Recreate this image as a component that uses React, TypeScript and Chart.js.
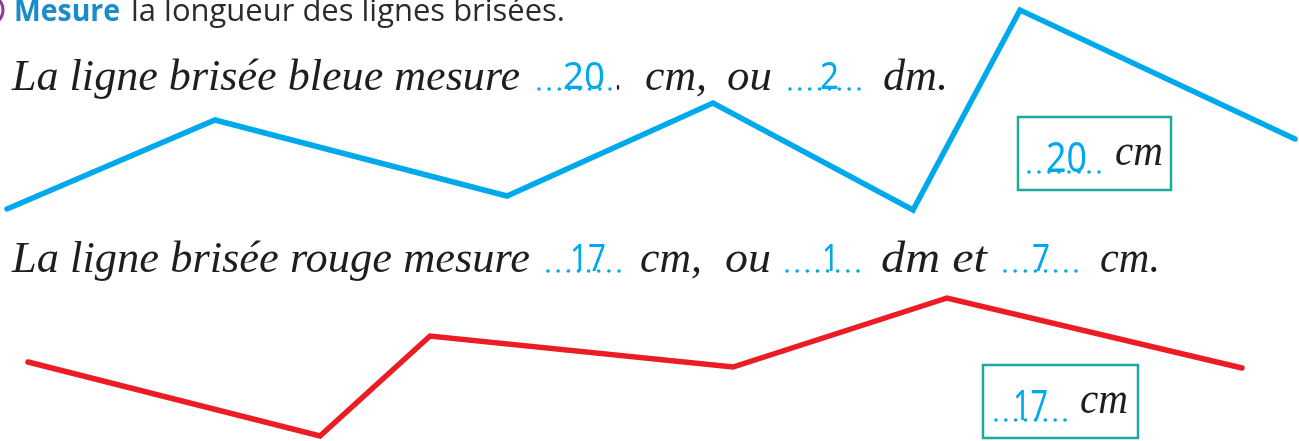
import React, { useEffect, useRef } from "react";
import { Chart, registerables } from "chart.js";

Chart.register(...registerables);

// Polyline vertices (page units: x to the right, y downwards)
const blueX = [7, 215, 507, 713, 913, 1020, 1295];
const blueY = [209, 120, 196, 103, 210, 10, 139];
const redX = [28, 320, 430, 733, 947, 1242];
const redY = [362, 436, 336, 367, 298, 368];

// Texts
const headerBold = "Mesure";
const headerRest = "la longueur des lignes brisées.";
const line1Words = ["La ligne brisée bleue mesure", ".", "cm,", "ou", "dm."];
const line1Answers = ["20", "2"];
const line2Words = ["La ligne brisée rouge mesure", "cm,", "ou", "dm et", "cm."];
const line2Answers = ["17", "1", "7"];
const boxAnswers = ["20", "17"];
const boxUnit = "cm";

const BLUE = "#00A9EC";
const RED = "#EC1C24";
const TEAL = "#1BA89F";
const INK = "#1e1e1e";
const CURSIVE = "italic 44px 'Liberation Serif'";
const SANS = "38px 'Noto Sans'";

function fit(ctx: CanvasRenderingContext2D, text: string, x: number, base: number, w: number, font: string, color: string) {
  ctx.save();
  ctx.font = font;
  ctx.fillStyle = color;
  ctx.textBaseline = "alphabetic";
  ctx.textAlign = "left";
  const m = ctx.measureText(text).width || 1;
  ctx.translate(x, base);
  ctx.scale(w / m, 1);
  ctx.fillText(text, 0, 0);
  ctx.restore();
}

function dots(ctx: CanvasRenderingContext2D, x0: number, x1: number, y: number, n: number) {
  ctx.save();
  ctx.fillStyle = BLUE;
  for (let i = 0; i < n; i++) {
    const x = x0 + ((x1 - x0) * i) / (n - 1);
    ctx.beginPath();
    ctx.arc(x, y, 1.8, 0, Math.PI * 2);
    ctx.fill();
  }
  ctx.restore();
}

const textPlugin = {
  id: "worksheetText",
  afterDraw(chart: any) {
    const ctx: CanvasRenderingContext2D = chart.ctx;
    // purple number circle edge
    ctx.save();
    ctx.strokeStyle = "#8B3A95";
    ctx.lineWidth = 3;
    ctx.beginPath();
    ctx.arc(-12, 10, 15, 0, Math.PI * 2);
    ctx.stroke();
    ctx.restore();

    // header
    fit(ctx, headerBold, 14, 21, 106, "bold 31px 'Open Sans'", "#1A8CC8");
    fit(ctx, headerRest, 131, 21, 434, "31px 'Open Sans'", "#2b2b2b");

    // line 1
    fit(ctx, line1Words[0], 12, 90, 508, CURSIVE, INK);
    dots(ctx, 539, 610, 89, 8);
    fit(ctx, line1Answers[0], 563, 89, 42, SANS, BLUE);
    fit(ctx, line1Words[1], 616, 90, 5, CURSIVE, INK);
    fit(ctx, line1Words[2], 645, 90, 62, CURSIVE, INK);
    fit(ctx, line1Words[3], 727, 90, 45, CURSIVE, INK);
    dots(ctx, 790, 859, 89, 8);
    fit(ctx, line1Answers[1], 820, 89, 19, SANS, BLUE);
    fit(ctx, line1Words[4], 883, 90, 65, CURSIVE, INK);

    // line 2
    fit(ctx, line2Words[0], 12, 272, 518, CURSIVE, INK);
    dots(ctx, 548, 619, 271, 8);
    fit(ctx, line2Answers[0], 570, 271, 36, SANS, BLUE);
    fit(ctx, line2Words[1], 640, 272, 62, CURSIVE, INK);
    fit(ctx, line2Words[2], 725, 272, 46, CURSIVE, INK);
    dots(ctx, 787, 858, 271, 8);
    fit(ctx, line2Answers[1], 822, 271, 17, SANS, BLUE);
    fit(ctx, line2Words[3], 881, 272, 106, CURSIVE, INK);
    dots(ctx, 1005, 1076, 271, 8);
    fit(ctx, line2Answers[2], 1032, 271, 18, SANS, BLUE);
    fit(ctx, line2Words[4], 1100, 272, 60, CURSIVE, INK);

    // boxes
    ctx.save();
    ctx.strokeStyle = TEAL;
    ctx.lineWidth = 2.5;
    ctx.strokeRect(1018, 117, 153, 73);
    ctx.strokeRect(983, 365, 155, 73);
    ctx.restore();
    dots(ctx, 1029, 1099, 172, 8);
    fit(ctx, boxAnswers[0], 1046, 172, 41, "42px 'Noto Sans'", BLUE);
    fit(ctx, boxUnit, 1115, 165, 48, CURSIVE, INK);
    dots(ctx, 996, 1065, 420, 8);
    fit(ctx, boxAnswers[1], 1013, 420, 35, "42px 'Noto Sans'", BLUE);
    fit(ctx, boxUnit, 1080, 413, 48, CURSIVE, INK);
  },
};

export default function App() {
  const ref = useRef<HTMLCanvasElement | null>(null);
  useEffect(() => {
    document.body.style.margin = "0";
    document.body.style.background = "#ffffff";
    if (!ref.current) return;
    const chart = new Chart(ref.current, {
      type: "line",
      data: {
        datasets: [
          {
            label: "bleue",
            data: blueX.map((x, i) => ({ x, y: blueY[i] })),
            borderColor: BLUE,
            borderWidth: 5.5,
            pointRadius: 0,
            tension: 0,
            borderJoinStyle: "miter",
            borderCapStyle: "round",
            fill: false,
          },
          {
            label: "rouge",
            data: redX.map((x, i) => ({ x, y: redY[i] })),
            borderColor: RED,
            borderWidth: 5.5,
            pointRadius: 0,
            tension: 0,
            borderJoinStyle: "miter",
            borderCapStyle: "round",
            fill: false,
          },
        ],
      },
      options: {
        animation: false,
        responsive: true,
        maintainAspectRatio: false,
        layout: { padding: 0 },
        plugins: { legend: { display: false }, tooltip: { enabled: false }, title: { display: false } },
        scales: {
          x: { type: "linear", min: 0, max: 1299, display: false },
          y: { type: "linear", min: 0, max: 441, reverse: true, display: false },
        },
      },
      plugins: [textPlugin],
    } as any);
    return () => chart.destroy();
  }, []);
  return (
    <div style={{ position: "fixed", left: 0, top: 0, width: 1299, height: 441, background: "#fff" }}>
      <canvas ref={ref} />
    </div>
  );
}
